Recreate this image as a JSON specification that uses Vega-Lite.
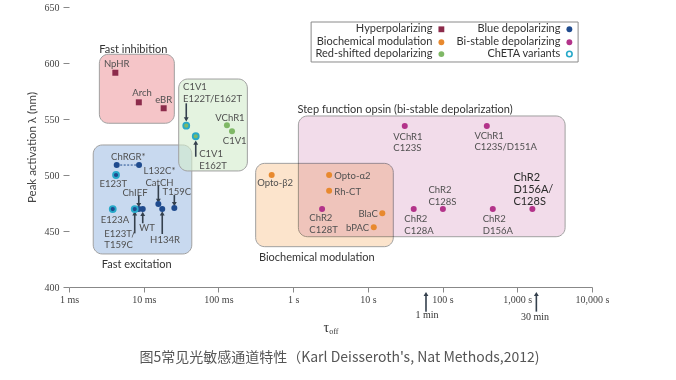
{
"$schema": "https://vega.github.io/schema/vega-lite/v6.json",
"width": 523, "height": 280,
"autosize": {"type": "none"},
"padding": {"left": 69, "top": 7, "right": 84, "bottom": 93},
"background": "white",
"config": {"view": {"stroke": null}, "font": "Lato"},
"title": {"text": "图5常见光敏感通道特性（Karl Deisseroth's, Nat Methods,2012)", "orient": "bottom", "anchor": "middle", "offset": 15, "dx": 9, "font": "Noto Sans CJK SC", "fontSize": 14, "fontWeight": "normal", "color": "#555555"},
"datasets": {
 "points": [
  {"name":"NpHR","tau":0.00417,"nm":591.3,"type":"Hyperpolarizing"},
  {"name":"Arch","tau":0.0086,"nm":564.9,"type":"Hyperpolarizing"},
  {"name":"eBR","tau":0.0185,"nm":559.6,"type":"Hyperpolarizing"},
  {"name":"C1V1 E122T/E162T","tau":0.0371,"nm":544.0,"type":"Red-shifted depolarizing","cheta":true},
  {"name":"C1V1 E162T","tau":0.0497,"nm":534.6,"type":"Red-shifted depolarizing","cheta":true},
  {"name":"VChR1","tau":0.130,"nm":544.4,"type":"Red-shifted depolarizing"},
  {"name":"C1V1","tau":0.152,"nm":539.0,"type":"Red-shifted depolarizing"},
  {"name":"ChRGR","tau":0.00435,"nm":508.9,"type":"Blue depolarizing","group":"ChRGR"},
  {"name":"ChRGR","tau":0.00866,"nm":508.9,"type":"Blue depolarizing","group":"ChRGR"},
  {"name":"E123T","tau":0.00426,"nm":500.0,"type":"Blue depolarizing","cheta":true},
  {"name":"E123A","tau":0.00385,"nm":469.6,"type":"Blue depolarizing","cheta":true},
  {"name":"E123T/T159C","tau":0.00758,"nm":469.6,"type":"Blue depolarizing","cheta":true},
  {"name":"ChIEF","tau":0.00858,"nm":469.6,"type":"Blue depolarizing"},
  {"name":"WT","tau":0.0097,"nm":469.6,"type":"Blue depolarizing"},
  {"name":"CatCH","tau":0.0157,"nm":474.1,"type":"Blue depolarizing"},
  {"name":"H134R","tau":0.0177,"nm":469.6,"type":"Blue depolarizing"},
  {"name":"T159C","tau":0.0257,"nm":470.5,"type":"Blue depolarizing"},
  {"name":"Opto-β2","tau":0.516,"nm":500.0,"type":"Biochemical modulation"},
  {"name":"Opto-α2","tau":3.03,"nm":500.0,"type":"Biochemical modulation"},
  {"name":"Rh-CT","tau":3.03,"nm":486.0,"type":"Biochemical modulation"},
  {"name":"BlaC","tau":15.6,"nm":465.8,"type":"Biochemical modulation"},
  {"name":"bPAC","tau":12.0,"nm":453.3,"type":"Biochemical modulation"},
  {"name":"ChR2 C128T","tau":2.44,"nm":469.6,"type":"Bi-stable depolarizing"},
  {"name":"VChR1 C123S","tau":31.2,"nm":543.8,"type":"Bi-stable depolarizing"},
  {"name":"VChR1 C123S/D151A","tau":391,"nm":543.8,"type":"Bi-stable depolarizing"},
  {"name":"ChR2 C128A","tau":41.1,"nm":469.6,"type":"Bi-stable depolarizing"},
  {"name":"ChR2 C128S","tau":101,"nm":469.6,"type":"Bi-stable depolarizing"},
  {"name":"ChR2 D156A","tau":470,"nm":469.6,"type":"Bi-stable depolarizing"},
  {"name":"ChR2 D156A/C128S","tau":1592,"nm":469.6,"type":"Bi-stable depolarizing"}
 ],
 "regions": [
  {"name":"Fast inhibition","tau":0.00255,"tau2":0.0257,"nm":607.8,"nm2":546.2},
  {"name":"Red-shifted depolarizing","tau":0.0294,"tau2":0.244,"nm":585.7,"nm2":503.6},
  {"name":"Fast excitation","tau":0.00211,"tau2":0.0440,"nm":526.8,"nm2":429.5},
  {"name":"Step function opsin","tau":1.175,"tau2":4365,"nm":552.7,"nm2":444.9},
  {"name":"Biochemical modulation","tau":0.315,"tau2":21.9,"nm":510.4,"nm2":436.0}
 ],
 "regionLabels": [
  {"label":"Fast inhibition","tau":0.00726,"nm":617.05},
  {"label":"Fast excitation","tau":0.00805,"nm":424.8},
  {"label":"Biochemical modulation","tau":2.07,"nm":431.3},
  {"label":"Step function opsin (bi-stable depolarization)","tau":31.5,"nm":563.8}
 ],
 "labC": [
  {"label":"NpHR","tau":0.00435,"nm":603.5},
  {"label":"Arch","tau":0.00948,"nm":577.6},
  {"label":"eBR","tau":0.0185,"nm":571.6},
  {"label":"ChRGR*","tau":0.00622,"nm":520.7},
  {"label":"E123T","tau":0.00392,"nm":496.3},
  {"label":"L132C*\nCatCH","tau":0.01628,"nm":508.2},
  {"label":"ChIEF","tau":0.00765,"nm":488.8},
  {"label":"T159C","tau":0.0277,"nm":489.5},
  {"label":"E123A","tau":0.00413,"nm":464.2},
  {"label":"WT","tau":0.01107,"nm":457.1},
  {"label":"H134R","tau":0.01927,"nm":446.3},
  {"label":"Opto-β2","tau":0.573,"nm":497.2},
  {"label":"VChR1","tau":0.1428,"nm":555.8},
  {"label":"C1V1","tau":0.1652,"nm":535.0}
 ],
 "labL": [
  {"label":"E123T/\nT159C","tau":0.00297,"nm":452.2},
  {"label":"C1V1\nE122T/E162T","tau":0.0336,"nm":582.6},
  {"label":"C1V1\nE162T","tau":0.0554,"nm":523.1},
  {"label":"ChR2\nC128T","tau":1.648,"nm":466.0},
  {"label":"Opto-α2","tau":3.56,"nm":503.75},
  {"label":"Rh-CT","tau":3.56,"nm":489.7},
  {"label":"VChR1\nC123S","tau":21.9,"nm":538.8},
  {"label":"ChR2\nC128A","tau":30.8,"nm":465.1},
  {"label":"ChR2\nC128S","tau":64.6,"nm":491.0},
  {"label":"ChR2\nD156A","tau":345,"nm":465.1},
  {"label":"VChR1\nC123S/D151A","tau":266.6,"nm":539.5}
 ],
 "labBig": [
  {"label":"ChR2\nD156A/\nC128S","tau":887,"nm":502.8}
 ],
 "labR": [
  {"label":"BlaC","tau":13.58,"nm":469.55},
  {"label":"bPAC","tau":10.38,"nm":457.05}
 ],
 "arrows": [
  {"tau":0.0371,"nm":564.0,"nm2":549.7},
  {"tau":0.0497,"nm":516.3,"nm2":528.8},
  {"tau":0.00858,"nm":482.1,"nm2":473.2},
  {"tau":0.0097,"nm":456.9,"nm2":465.2},
  {"tau":0.00758,"nm":447.9,"nm2":465.8},
  {"tau":0.0157,"nm":491.1,"nm2":476.8},
  {"tau":0.0257,"nm":482.1,"nm2":474.1},
  {"tau":0.0177,"nm":447.3,"nm2":465.8},
  {"tau":60,"nm":378.0,"nm2":393.75},
  {"tau":1800,"nm":378.0,"nm2":393.75}
 ],
 "legendBox": [
  {"tau":1.74,"tau2":6516,"nm":600.9,"nm2":636.6}
 ],
 "legend": [
  {"type":"Hyperpolarizing","tau":96.4,"nm":630.1},
  {"type":"Biochemical modulation","tau":96.4,"nm":618.5},
  {"type":"Red-shifted depolarizing","tau":96.4,"nm":608.0},
  {"type":"Blue depolarizing","tau":4980,"nm":630.1},
  {"type":"Bi-stable depolarizing","tau":4980,"nm":618.5},
  {"type":"ChETA variants","tau":4980,"nm":608.0}
 ],
 "axisNotes": [
  {"label":"1 min","tau":62.0,"nm":375.0},
  {"label":"30 min","tau":1722,"nm":373.2}
 ]
},
"encoding": {
 "x": {"field":"tau","type":"quantitative",
   "scale":{"type":"log","domain":[0.001,10000],"nice":false},
   "axis":{"title":null,"values":[0.001,0.01,0.1,1,10,100,1000,10000],
     "labelExpr":"datum.value < 1 ? format(datum.value*1000, ',') + ' ms' : format(datum.value, ',') + ' s'",
     "labelFont":"Liberation Serif","labelFontSize":10,"labelColor":"#444444","tickColor":"#888888","tickSize":5,
     "domainColor":"#888888","grid":false,"labelPadding":2,"labelFlush":false,"labelOverlap":false}},
 "y": {"field":"nm","type":"quantitative",
   "scale":{"domain":[400,650],"nice":false,"zero":false},
   "axis":{"title":"Peak activation λ (nm)","values":[400,450,500,550,600,650],
     "labelFont":"Liberation Serif","labelFontSize":10,"labelColor":"#444444","tickColor":"#888888","tickSize":6,
     "domain":false,"grid":false,"labelPadding":4,"titleFont":"Lato","titleFontSize":11.5,"titleFontWeight":"normal",
     "titleColor":"#444444","titlePadding":7}}
},
"layer": [
 {"data":{"values":[{}]},
  "mark":{"type":"rect","color":{"gradient":"linear","x1":0,"x2":1,"y1":0,"y2":0,"stops":[{"offset":0,"color":"#ece9e2"},{"offset":1,"color":"#f8f7f4"}]}},
  "encoding":{"x":{"datum":0.001,"type":"quantitative","title":null},"x2":{"datum":10000},
    "y":{"datum":400,"type":"quantitative","title":"Peak activation λ (nm)"},"y2":{"datum":650}}},
 {"data":{"name":"regions"},"transform":[{"filter":"datum.name === 'Fast inhibition'"}],
  "mark":{"type":"rect","fill":"#f5c5c8","stroke":"#a0a0a0","strokeWidth":1,"cornerRadius":9},
  "encoding":{"x2":{"field":"tau2"},"y2":{"field":"nm2"}}},
 {"data":{"name":"regions"},"transform":[{"filter":"datum.name === 'Fast excitation'"}],
  "mark":{"type":"rect","fill":"#c8d9ef","stroke":"#a0a0a0","strokeWidth":1,"cornerRadius":9},
  "encoding":{"x2":{"field":"tau2"},"y2":{"field":"nm2"}}},
 {"data":{"name":"regions"},"transform":[{"filter":"datum.name === 'Red-shifted depolarizing'"}],
  "mark":{"type":"rect","fill":"#d4eccd","fillOpacity":0.62,"stroke":"#a0a0a0","strokeWidth":1,"cornerRadius":9},
  "encoding":{"x2":{"field":"tau2"},"y2":{"field":"nm2"}}},
 {"data":{"name":"regions"},"transform":[{"filter":"datum.name === 'Biochemical modulation'"}],
  "mark":{"type":"rect","fill":"#fce4cc","stroke":"#a0a0a0","strokeWidth":1,"cornerRadius":9},
  "encoding":{"x2":{"field":"tau2"},"y2":{"field":"nm2"}}},
 {"data":{"name":"regions"},"transform":[{"filter":"datum.name === 'Step function opsin'"}],
  "mark":{"type":"rect","fill":"#f2dcea","stroke":"#a0a0a0","strokeWidth":1,"cornerRadius":9,"blend":"multiply"},
  "encoding":{"x2":{"field":"tau2"},"y2":{"field":"nm2"}}},
 {"data":{"name":"regionLabels"},
  "mark":{"type":"text","align":"center","baseline":"top","font":"Lato","fontSize":11,"color":"#333333"},
  "encoding":{"text":{"field":"label"}}},
 {"data":{"name":"points"},"transform":[{"filter":"datum.group === 'ChRGR'"}],
  "mark":{"type":"line","color":"#1f4b8e","strokeWidth":1,"strokeDash":[2,1.5]},
  "encoding":{}},
 {"data":{"name":"arrows"},
  "mark":{"type":"rule","color":"#34404d","strokeWidth":1.6},
  "encoding":{"y2":{"field":"nm2"}}},
 {"data":{"name":"arrows"},
  "mark":{"type":"point","filled":true,"size":24,"opacity":1,"color":"#34404d"},
  "encoding":{"y":{"field":"nm2","type":"quantitative","title":"Peak activation λ (nm)"},
    "shape":{"condition":{"test":"datum.nm2 > datum.nm","value":"triangle-up"},"value":"triangle-down"}}},
 {"data":{"name":"points"},
  "mark":{"type":"point","filled":true,"size":36,"opacity":1},
  "encoding":{
   "color":{"field":"type","type":"nominal","legend":null,
     "scale":{"domain":["Hyperpolarizing","Biochemical modulation","Red-shifted depolarizing","Blue depolarizing","Bi-stable depolarizing","ChETA variants"],
              "range":["#8c2b4b","#e8892e","#7fb866","#1f4b8e","#b3338a","#27a9c9"]}},
   "shape":{"field":"type","type":"nominal","legend":null,
     "scale":{"domain":["Hyperpolarizing","Biochemical modulation","Red-shifted depolarizing","Blue depolarizing","Bi-stable depolarizing","ChETA variants"],
              "range":["square","circle","circle","circle","circle","circle"]}}}},
 {"data":{"name":"points"},"transform":[{"filter":"datum.cheta === true"}],
  "mark":{"type":"point","filled":false,"size":36,"opacity":1,"color":"#27a9c9","strokeWidth":1.8},
  "encoding":{}},
 {"data":{"name":"labC"},
  "mark":{"type":"text","align":"center","baseline":"top","font":"Lato","fontSize":9.5,"lineHeight":11.7,"lineBreak":"\n","color":"#505050"},
  "encoding":{"text":{"field":"label"}}},
 {"data":{"name":"labL"},
  "mark":{"type":"text","align":"left","baseline":"top","font":"Lato","fontSize":9.5,"lineHeight":11.7,"lineBreak":"\n","color":"#505050"},
  "encoding":{"text":{"field":"label"}}},
 {"data":{"name":"labR"},
  "mark":{"type":"text","align":"right","baseline":"top","font":"Lato","fontSize":9.5,"lineHeight":11.7,"lineBreak":"\n","color":"#505050"},
  "encoding":{"text":{"field":"label"}}},
 {"data":{"name":"labBig"},
  "mark":{"type":"text","align":"left","baseline":"top","font":"Lato","fontSize":11,"lineHeight":12.2,"lineBreak":"\n","color":"#2a2a2a"},
  "encoding":{"text":{"field":"label"}}},
 {"data":{"name":"legendBox"},
  "mark":{"type":"rect","fill":"#ffffff","stroke":"#8a8a8a","strokeWidth":1},
  "encoding":{"x2":{"field":"tau2"},"y2":{"field":"nm2"}}},
 {"data":{"name":"legend"},"transform":[{"filter":"datum.type !== 'ChETA variants'"}],
  "mark":{"type":"point","filled":true,"size":34,"opacity":1},
  "encoding":{"color":{"field":"type","type":"nominal","legend":null},"shape":{"field":"type","type":"nominal","legend":null}}},
 {"data":{"name":"legend"},"transform":[{"filter":"datum.type === 'ChETA variants'"}],
  "mark":{"type":"point","filled":false,"size":30,"opacity":1,"color":"#27a9c9","strokeWidth":1.6},
  "encoding":{}},
 {"data":{"name":"legend"},
  "mark":{"type":"text","align":"right","baseline":"middle","dx":-9,"font":"Lato","fontSize":11,"color":"#333333"},
  "encoding":{"text":{"field":"type"}}},
 {"data":{"name":"axisNotes"},
  "mark":{"type":"text","align":"center","baseline":"middle","font":"Liberation Serif","fontSize":10,"color":"#333333"},
  "encoding":{"text":{"field":"label"}}},
 {"data":{"values":[{"label":"τ","tau":2.78,"nm":363.1}]},
  "mark":{"type":"text","align":"center","baseline":"middle","font":"Liberation Serif","fontSize":14,"color":"#333333"},
  "encoding":{"text":{"field":"label"}}},
 {"data":{"values":[{"label":"off","tau":3.05,"nm":359.8}]},
  "mark":{"type":"text","align":"left","baseline":"middle","font":"Liberation Serif","fontSize":8,"color":"#333333"},
  "encoding":{"text":{"field":"label"}}}
]
}
